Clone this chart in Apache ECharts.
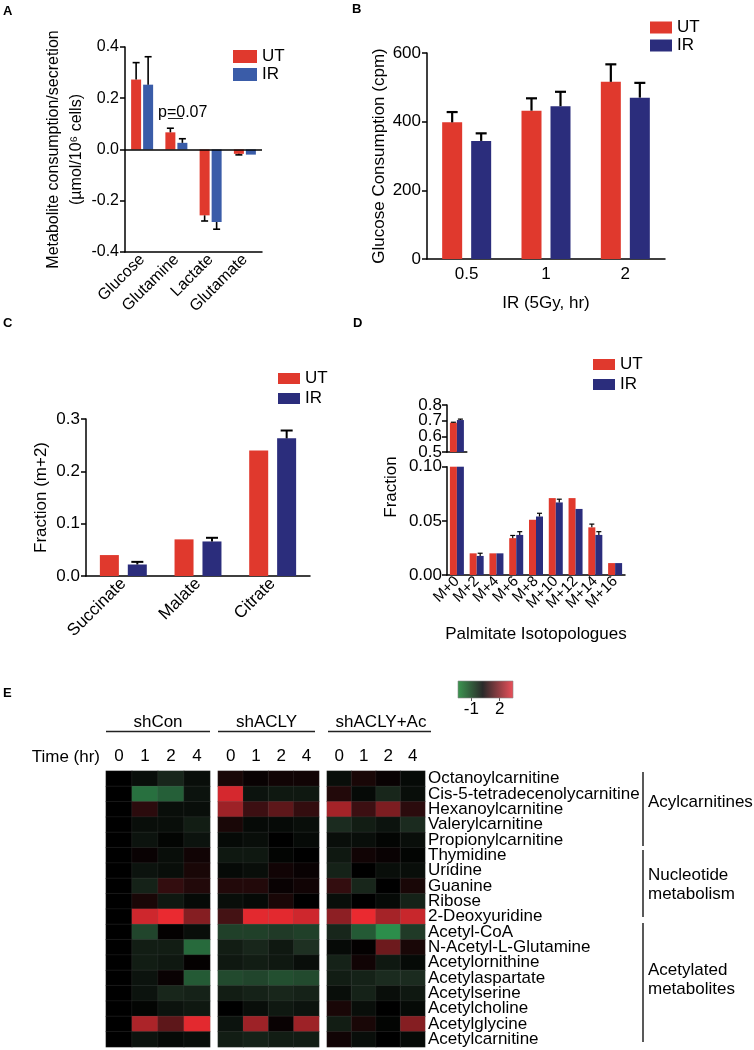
<!DOCTYPE html>
<html><head><meta charset="utf-8">
<script src="https://cdn.jsdelivr.net/npm/echarts@6/dist/echarts.min.js"></script>
<style>html,body{margin:0;padding:0;background:#fff}#c{width:754px;height:1050px}</style>
</head><body><div id="c"></div>
<script>
// ---------- DATA ----------
const metabolitesA = ['Glucose', 'Glutamine', 'Lactate', 'Glutamate'];
const utA = [0.273, 0.067, -0.257, -0.017];
const utErrA = [0.066, 0.016, 0.022, 0.004];
const irA = [0.253, 0.026, -0.283, -0.020];
const irErrA = [0.109, 0.016, 0.028, 0];
const yTicksA = [-0.4, 0.4, 0.2];

const timesB = ['0.5', '1', '2'];
const utB = [398, 432, 516];
const utErrB = [30, 36, 51];
const irB = [344, 445, 470];
const irErrB = [22, 42, 43];
const yTicksB = [0, 600, 200];

const metabolitesC = ['Succinate', 'Malate', 'Citrate'];
const utC = [0.040, 0.070, 0.240];
const utErrC = [0, 0, 0];
const irC = [0.022, 0.066, 0.263];
const irErrC = [0.005, 0.007, 0.015];
const yTicksC = [0, 0.3, 0.1];

const isotopologuesD = ['M+0', 'M+2', 'M+4', 'M+6', 'M+8', 'M+10', 'M+12', 'M+14', 'M+16'];
const utD = [0.687, 0.020, 0.020, 0.034, 0.051, 0.071, 0.071, 0.044, 0.011];
const utErrD = [0.003, 0, 0, 0.0025, 0, 0, 0, 0.003, 0];
const irD = [0.704, 0.0176, 0.020, 0.037, 0.054, 0.067, 0.061, 0.037, 0.011];
const irErrD = [0.006, 0.0025, 0, 0.003, 0.003, 0.003, 0, 0.003, 0];
const yTicksDTop = [0.5, 0.8, 0.1];
const yLabelsDTopA = [0.5, 0.7];
const yLabelsDTopB = [0.6, 0.8];
const yTicksDBottom = [0, 0.1, 0.05];

const heatGroups = ['shCon', 'shACLY', 'shACLY+Ac'];
const heatCols = ['0', '1', '2', '4'];
const heatRows = ['Octanoylcarnitine', 'Cis-5-tetradecenolycarnitine', 'Hexanoylcarnitine', 'Valerylcarnitine',
  'Propionylcarnitine', 'Thymidine', 'Uridine', 'Guanine', 'Ribose', '2-Deoxyuridine', 'Acetyl-CoA',
  'N-Acetyl-L-Glutamine', 'Acetylornithine', 'Acetylaspartate', 'Acetylserine', 'Acetylcholine',
  'Acetylglycine', 'Acetylcarnitine'];
const shCon = [
  [0, -0.3, -0.8, -0.3], [0, -2.2, -1.9, -0.4], [0, 0.5, -0.3, -0.3], [0, -0.3, -0.3, -0.6],
  [0, -0.4, -0.1, -0.4], [0, 0.1, -0.3, 0.2], [0, -0.4, -0.3, 0.3], [0, -0.7, 0.6, 0.4],
  [0, 0.3, -0.5, -0.2], [0, 2.6, 3.0, 1.6], [0, -1.4, 0.05, -0.3], [0, -0.6, -0.6, -2.1],
  [0, -0.6, -0.5, 0.05], [0, -0.4, 0.1, -1.8], [0, -0.4, -0.8, -0.7], [0, -0.1, -0.4, -0.5],
  [0, 2.1, 1.1, 2.9], [0, -0.4, -0.2, -0.3]
];
const shACLY = [
  [0.3, 0.1, 0.2, 0.2], [2.7, -0.4, -0.5, -0.5], [1.9, 0.7, 1.1, 0.6], [0.3, -0.2, -0.2, -0.3],
  [-0.2, -0.3, 0.0, -0.2], [-0.5, -0.5, -0.1, 0.0], [-0.2, -0.3, 0.2, 0.1], [0.4, 0.4, 0.1, 0.2],
  [-0.3, -0.2, 0.3, 0.0], [0.8, 2.9, 2.9, 2.6], [-1.3, -1.3, -1.2, -1.3], [-0.6, -0.8, -0.5, -1.0],
  [-0.5, -0.6, -0.5, -0.3], [-1.5, -1.4, -1.6, -1.5], [-0.6, -0.7, -0.8, -0.7], [0.0, -0.3, -0.5, -0.4],
  [-0.4, 1.9, 0.1, 1.9], [-0.6, -0.7, -0.6, -0.6]
];
const shACLYAc = [
  [-0.3, 0.3, 0.1, -0.2], [0.4, -0.2, -0.8, -0.3], [2.0, 0.7, 1.5, 0.5], [-0.9, -0.6, -0.4, -0.9],
  [-0.3, -0.3, -0.1, -0.3], [-0.5, 0.2, 0.1, -0.1], [-0.7, 0.0, -0.3, -0.3], [0.6, -0.8, 0.0, 0.3],
  [-0.3, 0.0, -0.2, -0.7], [1.7, 3.0, 2.0, 2.5], [-0.8, -1.8, -2.7, -1.2], [-0.2, 0.05, 1.3, 0.3],
  [-0.7, 0.2, -0.5, -0.2], [-0.6, -0.7, -0.9, -0.9], [-0.3, -0.7, -0.3, -0.5], [0.3, -0.3, 0.0, -0.2],
  [-0.6, 0.3, -0.1, 1.6], [0.2, -0.3, 0.0, -0.2]
];
const heatRange = [-3, 3];
const colorbarRange = [-2.4, 3.4];
const colorbarTicks = [-1, 2];

// ---------- STYLE ----------
const FONT = 'Liberation Sans, Arial, Helvetica, sans-serif';
const RED = '#E0392D', BLUE_A = '#3A5CA8', NAVY = '#2B2D7C';
const AX = { lineStyle: { color: '#000', width: 1.5 } };

function errSeries(xi, yi, vals, errs, idxs, offset, cap, lw) {
  return {
    type: 'custom', xAxisIndex: xi, yAxisIndex: yi, silent: true, z: 5,
    data: idxs.map(i => [idxs.length === 1 ? 0 : i, vals[i], errs[i]]),
    encode: { x: 0, y: 1 },
    renderItem(params, api) {
      const i = api.value(0), v = api.value(1), e = api.value(2);
      if (!e) return null;
      const s = v >= 0 ? 1 : -1;
      const p0 = api.coord([i, v]), p1 = api.coord([i, v + s * e]);
      const x = p0[0] + offset;
      const st = { stroke: '#000', lineWidth: lw };
      return { type: 'group', children: [
        { type: 'line', shape: { x1: x, y1: p0[1], x2: x, y2: p1[1] }, style: st },
        { type: 'line', shape: { x1: x - cap / 2, y1: p1[1], x2: x + cap / 2, y2: p1[1] }, style: st }
      ]};
    }
  };
}
function range(n) { return Array.from({ length: n }, (_, i) => i); }
function catX(gi, data, o) {
  return Object.assign({
    type: 'category', gridIndex: gi, data, nameMoveOverlap: false,
    axisLine: Object.assign({ onZero: false }, AX),
    axisTick: { alignWithLabel: true, length: 5, lineStyle: { color: '#000', width: 1.5 } },
    axisLabel: { color: '#000', fontSize: 17, fontFamily: FONT, margin: 6, interval: 0 }
  }, o || {});
}
function valY(gi, t, dec, o) {
  return Object.assign({
    type: 'value', gridIndex: gi, min: t[0], max: t[1], interval: t[2],
    splitLine: { show: false }, nameMoveOverlap: false,
    axisLine: Object.assign({ show: true }, AX),
    axisTick: { show: true, length: 5, lineStyle: { color: '#000', width: 1.5 } },
    axisLabel: { color: '#000', fontSize: 17, fontFamily: FONT, margin: 6, formatter: v => v.toFixed(dec),
      showMinLabel: true, showMaxLabel: true, hideOverlap: false },
    nameLocation: 'middle', nameRotate: 90,
    nameTextStyle: { color: '#000', fontSize: 17, fontFamily: FONT }
  }, o || {});
}
function topDAxis(vals, lineShow) {
  return valY(3, yTicksDTop, 1, {
    position: 'left', offset: 0,
    axisLine: Object.assign({ show: lineShow }, AX),
    axisTick: { show: true, length: 5, customValues: vals, lineStyle: { color: '#000', width: 1.5 } },
    axisLabel: { color: '#000', fontSize: 17, fontFamily: FONT, margin: 5, formatter: v => v.toFixed(1),
      customValues: vals, hideOverlap: false }
  });
}
function legend(left, top, ir, w, h, gap) {
  return {
    left, top, padding: 0, orient: 'vertical', icon: 'rect', itemWidth: w, itemHeight: h, itemGap: gap,
    selectedMode: false,
    textStyle: { color: '#000', fontSize: 17, fontFamily: FONT, lineHeight: 17 },
    data: [{ name: 'UT', itemStyle: { color: RED } }, { name: 'IR', itemStyle: { color: ir } }]
  };
}
function txt(x, y, text, o, rot) {
  return { type: 'text', x, y, rotation: rot || 0, silent: true,
    style: Object.assign({ text, fill: '#000', font: '17px ' + FONT, align: 'left', verticalAlign: 'middle' }, o || {}) };
}
function ln(x1, y1, x2, y2, w) {
  return { type: 'line', silent: true, shape: { x1, y1, x2, y2 }, style: { stroke: '#222', lineWidth: w || 1.5 } };
}
function heatData(m) {
  const d = [];
  m.forEach((row, r) => row.forEach((v, c) => d.push([c, r, v])));
  return d;
}

const grids = [
  { left: 125, top: 47, width: 137, height: 205 },
  { left: 427, top: 53, width: 238, height: 206 },
  { left: 86, top: 419, width: 224, height: 157 },
  { left: 447, top: 405, width: 19.8, height: 47 },
  { left: 447, top: 466.7, width: 178, height: 108.3 },
  { left: 106, top: 771, width: 104, height: 276 },
  { left: 218, top: 771, width: 101, height: 276 },
  { left: 327, top: 771, width: 98, height: 276 },
  { left: 458, top: 681, width: 55, height: 17 }
];

const heatX = gi => ({
  type: 'category', gridIndex: gi, data: heatCols, position: 'top',
  axisLine: { show: false }, axisTick: { show: false },
  axisLabel: { color: '#000', fontSize: 17, fontFamily: FONT, margin: 6, interval: 0 }
});
const heatY = (gi, show) => ({
  type: 'category', gridIndex: gi, data: heatRows, inverse: true, position: 'right',
  axisLine: { show: false }, axisTick: { show: false },
  axisLabel: { show, color: '#000', fontSize: 17, fontFamily: FONT, margin: 3, interval: 0, align: 'left' }
});

const xAxes = [
  catX(0, metabolitesA, { axisLabel: { color: '#000', fontSize: 16, fontFamily: FONT, margin: 5, interval: 0, rotate: 45 } }),
  catX(1, timesB, { name: 'IR (5Gy, hr)', nameLocation: 'middle', nameGap: 36,
    nameTextStyle: { color: '#000', fontSize: 17, fontFamily: FONT }, axisLabel: { color: '#000', fontSize: 17, fontFamily: FONT, margin: 7 } }),
  catX(2, metabolitesC, { axisLabel: { color: '#000', fontSize: 17, fontFamily: FONT, margin: 5, interval: 0, rotate: 45 } }),
  catX(3, [isotopologuesD[0]], { axisTick: { show: false }, axisLabel: { show: false } }),
  catX(4, isotopologuesD, { name: 'Palmitate Isotopologues', nameLocation: 'middle', nameGap: 51,
    nameTextStyle: { color: '#000', fontSize: 17, fontFamily: FONT },
    axisLabel: { color: '#000', fontSize: 15, fontFamily: FONT, margin: 4, interval: 0, rotate: 45 } }),
  heatX(5), heatX(6), heatX(7),
  { type: 'value', gridIndex: 8, min: colorbarRange[0], max: colorbarRange[1],
    splitLine: { show: false }, axisLine: { show: false },
    axisTick: { show: true, length: 3, customValues: colorbarTicks, lineStyle: { color: '#555' } },
    axisLabel: { color: '#000', fontSize: 17, fontFamily: FONT, margin: 3, customValues: colorbarTicks, formatter: v => String(v) } }
];
const yAxes = [
  valY(0, yTicksA, 1, { name: 'Metabolite consumption/secretion\n(µmol/10⁶ cells)', nameGap: 37,
    axisLabel: { color: '#000', fontSize: 16, fontFamily: FONT, margin: 6, formatter: v => v.toFixed(1) },
    nameTextStyle: { color: '#000', fontSize: 16, fontFamily: FONT, lineHeight: 23 } }),
  valY(1, yTicksB, 0, { name: 'Glucose Consumption (cpm)', nameGap: 39 }),
  valY(2, yTicksC, 1, { name: 'Fraction (m+2)', nameGap: 36 }),
  topDAxis(yLabelsDTopA, true),
  valY(4, yTicksDBottom, 2, { axisLabel: { color: '#000', fontSize: 17, fontFamily: FONT, margin: 5, formatter: v => v.toFixed(2),
    showMinLabel: true, showMaxLabel: true, hideOverlap: false } }),
  heatY(5, false), heatY(6, false), heatY(7, true),
  { type: 'value', gridIndex: 8, min: 0, max: 1, show: false },
  topDAxis(yLabelsDTopB, false)
];

const bar = (name, xi, data, color, w, gap, extra) => Object.assign({
  type: 'bar', name, xAxisIndex: xi, yAxisIndex: xi, data, barWidth: w, barGap: gap,
  itemStyle: { color }, silent: true
}, extra || {});

const series = [
  bar('UT', 0, utA, RED, 10, '20%', { markLine: { silent: true, symbol: 'none', label: { show: false },
    lineStyle: { color: '#000', width: 1.5, type: 'solid' }, data: [{ yAxis: 0 }] } }),
  bar('IR', 0, irA, BLUE_A, 10, '20%'),
  errSeries(0, 0, utA, utErrA, range(4), -6, 7, 1.6),
  errSeries(0, 0, irA, irErrA, range(4), 6, 7, 1.6),
  bar('UT', 1, utB, RED, 20, '45%'),
  bar('IR', 1, irB, NAVY, 20, '45%'),
  errSeries(1, 1, utB, utErrB, range(3), -14.5, 11, 2.2),
  errSeries(1, 1, irB, irErrB, range(3), 14.5, 11, 2.2),
  bar('UT', 2, utC, RED, 19, '47%'),
  bar('IR', 2, irC, NAVY, 19, '47%'),
  errSeries(2, 2, utC, utErrC, range(3), -14, 12, 2),
  errSeries(2, 2, irC, irErrC, range(3), 14, 12, 2),
  bar('UT', 3, [utD[0]], RED, 7, '0%'),
  bar('IR', 3, [irD[0]], NAVY, 7, '0%'),
  errSeries(3, 3, utD, utErrD, [0], -3.5, 5, 1.2),
  errSeries(3, 3, irD, irErrD, [0], 3.5, 5, 1.2),
  bar('UT', 4, utD, RED, 7, '0%'),
  bar('IR', 4, irD, NAVY, 7, '0%'),
  errSeries(4, 4, utD, utErrD, range(9).slice(1), -3.5, 5, 1.2),
  errSeries(4, 4, irD, irErrD, range(9).slice(1), 3.5, 5, 1.2),
  ...[shCon, shACLY, shACLYAc].map((m, k) => ({
    type: 'heatmap', xAxisIndex: 5 + k, yAxisIndex: 5 + k, data: heatData(m), silent: true,
    itemStyle: { borderColor: 'rgba(90,90,90,0.35)', borderWidth: 0.5 }, emphasis: { disabled: true }
  })),
  { type: 'custom', xAxisIndex: 8, yAxisIndex: 8, silent: true, data: [[colorbarRange[0], colorbarRange[1]]],
    renderItem(params, api) {
      const p0 = api.coord([api.value(0), 1]), p1 = api.coord([api.value(1), 0]);
      return { type: 'rect', shape: { x: p0[0], y: p0[1], width: p1[0] - p0[0], height: p1[1] - p0[1] },
        style: { fill: new echarts.graphic.LinearGradient(0, 0, 1, 0, [
          { offset: 0, color: '#3C9650' }, { offset: 0.45, color: '#2a2a2a' }, { offset: 1, color: '#EB505A' }]),
          stroke: '#888', lineWidth: 0.6 } };
    } }
];

const bold = { font: 'bold 13px ' + FONT };
const graphic = [
  txt(3, 11, 'A', bold), txt(352, 9, 'B', bold), txt(3, 323, 'C', bold), txt(353, 323, 'D', bold), txt(3, 693, 'E', bold),
  txt(158, 113, 'p=0.07', { font: '16px ' + FONT }), ln(168, 118.5, 183, 118.5, 1),
  txt(391.5, 487, 'Fraction', { align: 'center' }, Math.PI / 2),
  txt(158, 722, heatGroups[0], { align: 'center' }), ln(106, 731.5, 210, 731.5),
  txt(266.5, 722, heatGroups[1], { align: 'center' }), ln(218, 731.5, 315, 731.5),
  txt(381, 722, heatGroups[2], { align: 'center' }), ln(328, 731.5, 431, 731.5),
  txt(100, 757, 'Time (hr)', { align: 'right' }),
  ln(643, 772, 643, 846), ln(643, 850, 643, 917), ln(643, 923, 643, 1042),
  txt(648, 802, 'Acylcarnitines'),
  txt(648, 875, 'Nucleotide'), txt(648, 894, 'metabolism'),
  txt(648, 970, 'Acetylated'), txt(648, 989, 'metabolites')
];

const chart = echarts.init(document.getElementById('c'), null, { renderer: 'canvas' });
chart.setOption({
  animation: false,
  backgroundColor: '#fff',
  textStyle: { fontFamily: FONT },
  grid: grids,
  legend: [
    legend(233, 48, BLUE_A, 24, 13, 1),
    legend(650, 19, NAVY, 22, 12, 1),
    legend(278, 370, NAVY, 22, 11, 3),
    legend(593, 356, NAVY, 22, 11, 3)
  ],
  visualMap: {
    show: false, type: 'continuous', min: heatRange[0], max: heatRange[1], seriesIndex: [20, 21, 22],
    inRange: { color: ['#2EA052', '#26643A', '#1E3022', '#000000', '#551619', '#A52328', '#EA2A30'] }
  },
  xAxis: xAxes,
  yAxis: yAxes,
  series,
  graphic
});
</script></body></html>
